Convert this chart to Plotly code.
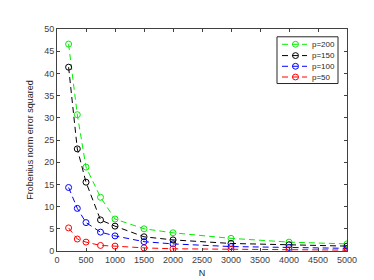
import plotly.graph_objects as go

N = [200, 350, 500, 750, 1000, 1500, 2000, 3000, 4000, 5000]
p200 = [46.6, 30.7, 18.9, 12.1, 7.2, 5.0, 4.1, 2.85, 2.0, 1.6]
p150 = [41.4, 23.0, 15.5, 7.0, 5.6, 3.2, 2.5, 1.7, 1.4, 1.1]
p100 = [14.3, 9.6, 6.4, 4.25, 3.4, 2.1, 1.6, 1.0, 0.8, 0.6]
p50 = [5.2, 2.7, 2.0, 1.25, 1.1, 0.7, 0.5, 0.35, 0.25, 0.2]

names = ["p=200", "p=150", "p=100", "p=50"]
values = [p200, p150, p100, p50]
colors = ["#00ee00", "#000000", "#0000ff", "#ff0000"]

W, H = 374, 280
ML, MR, MT, MB = 49, 35, 21, 31
PW, PH = W - ML - MR, H - MT - MB
DASH = "6px,4px"

def px(x):
    return (x - ML) / PW

def py(y):
    return (H - MB - y) / PH

fig = go.Figure()
for name, vals, col in zip(names, values, colors):
    fig.add_trace(go.Scatter(
        x=N, y=vals, name=name, mode="lines+markers", showlegend=False,
        line=dict(color=col, width=1, dash=DASH),
        marker=dict(symbol="circle-open", size=6, color=col, line=dict(width=1, color=col)),
    ))

# custom compact legend (MATLAB style)
shapes = [dict(type="rect", xref="paper", yref="paper",
               x0=px(269), x1=px(330), y0=py(77), y1=py(29),
               line=dict(color="#262626", width=1), fillcolor="white", layer="above")]
annotations = []
rows = [36.7, 48.3, 59.3, 70.3]
for name, col, yy in zip(names, colors, rows):
    shapes.append(dict(type="line", xref="paper", yref="paper",
                       x0=px(274), x1=px(299), y0=py(yy), y1=py(yy),
                       line=dict(color=col, width=1, dash=DASH), layer="above"))
    shapes.append(dict(type="circle", xref="paper", yref="paper",
                       x0=px(284.5), x1=px(290.5), y0=py(yy + 3), y1=py(yy - 3),
                       line=dict(color=col, width=1), fillcolor="rgba(0,0,0,0)", layer="above"))
    annotations.append(dict(xref="paper", yref="paper", x=px(302), y=py(yy), text=name,
                            showarrow=False, xanchor="left", yanchor="middle",
                            font=dict(family="Liberation Sans", size=8, color="#262626")))

axis_common = dict(showline=True, linecolor="#404040", linewidth=1, mirror="ticks",
                   ticks="inside", ticklen=3, tickcolor="#404040", showgrid=False,
                   zeroline=False, tickfont=dict(family="Liberation Sans", size=9, color="#404040"))

fig.update_layout(
    width=W, height=H,
    margin=dict(l=ML, r=MR, t=MT, b=MB),
    plot_bgcolor="white", paper_bgcolor="white",
    font=dict(family="Liberation Sans", size=9, color="#262626"),
    xaxis=dict(range=[0, 5000], dtick=500, title=dict(text="N", standoff=5, font=dict(size=9)), **axis_common),
    yaxis=dict(range=[0, 50], dtick=5, title=dict(text="Frobenius norm error squared", standoff=9, font=dict(size=9)), **axis_common),
    shapes=shapes, annotations=annotations,
    showlegend=False,
)

fig.write_html("out.html")
